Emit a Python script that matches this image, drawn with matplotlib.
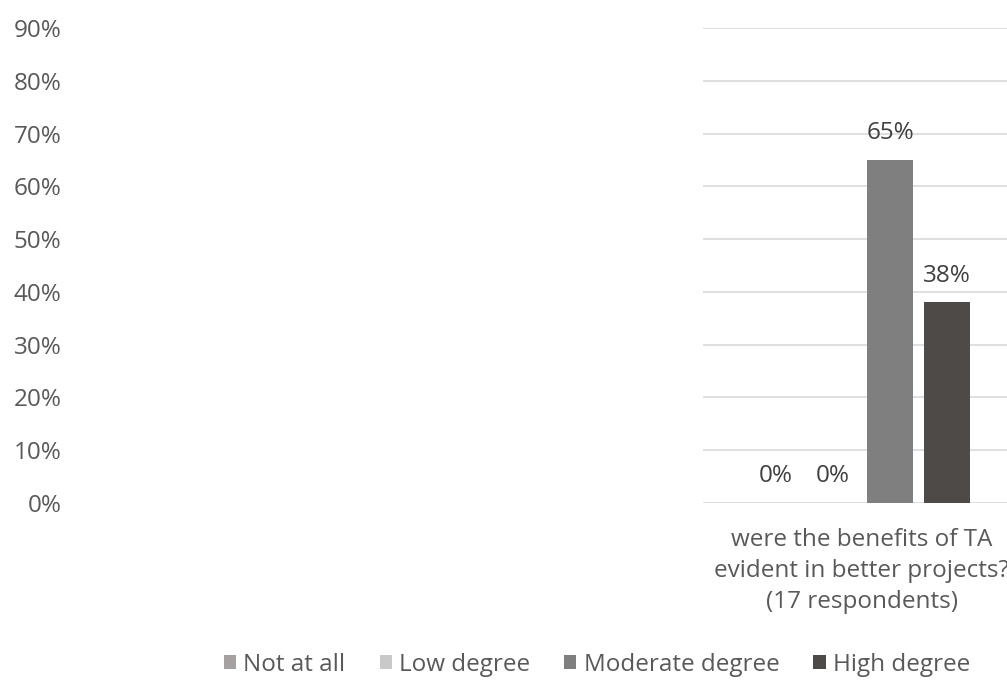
import matplotlib
matplotlib.use("Agg")
import matplotlib.pyplot as plt
import numpy as np

# Survey responses for one question (share of respondents)
categories = ["were the benefits of TA\nevident in better projects?\n(17 respondents)"]
series_names = ["Not at all", "Low degree", "Moderate degree", "High degree"]
series_values = [[0.00], [0.00], [0.65], [0.38]]
series_labels = ["0%", "0%", "65%", "38%"]
series_colors = ["#a6a0a0", "#c9c9c9", "#7f7f7f", "#4e4a48"]
y_ticks = [0.0, 0.1, 0.2, 0.3, 0.4, 0.5, 0.6, 0.7, 0.8, 0.9]
y_tick_labels = ["0%", "10%", "20%", "30%", "40%", "50%", "60%", "70%", "80%", "90%"]

plt.rcParams["font.family"] = ["Open Sans", "DejaVu Sans"]
text_color = "#595959"
fs = 17.5

W, H = 1007, 690
fig = plt.figure(figsize=(W / 100, H / 100), dpi=100)
ax = fig.add_axes([703 / W, 187 / H, 317 / W, 475 / H])

n = len(series_names)
bar_w = 0.145
step = 0.18
x = np.arange(len(categories))
for i, (name, vals, lab, col) in enumerate(zip(series_names, series_values, series_labels, series_colors)):
    pos = x + (i - (n - 1) / 2) * step
    bars = ax.bar(pos, vals, width=bar_w, color=col, label=name, zorder=3)
    for b, v, t in zip(bars, vals, [lab]):
        ax.text(b.get_x() + b.get_width() / 2, v + 0.028, t, ha="center", va="bottom",
                fontsize=fs, color="#404040")

ax.set_xlim(-0.5, 0.5)
ax.set_ylim(0, 0.9)
ax.set_yticks(y_ticks)
ax.set_yticklabels(y_tick_labels)
ax.set_xticks(x)
ax.set_xticklabels(categories, linespacing=1.4)
ax.tick_params(axis="y", length=0, pad=462, labelsize=fs, labelcolor=text_color)
ax.tick_params(axis="x", length=0, pad=18, labelsize=fs, labelcolor=text_color)
ax.grid(axis="y", color="#d9d9d9", linewidth=1.2, zorder=0)
ax.set_axisbelow(True)
for s in ax.spines.values():
    s.set_visible(False)

fig.legend(loc="center", bbox_to_anchor=(597 / W, 1 - 665 / H), ncol=4, frameon=False,
           fontsize=fs, labelcolor=text_color, handlelength=0.5, handleheight=0.5,
           handletextpad=0.3, columnspacing=1.4)

fig.savefig("out.png", dpi=100)
